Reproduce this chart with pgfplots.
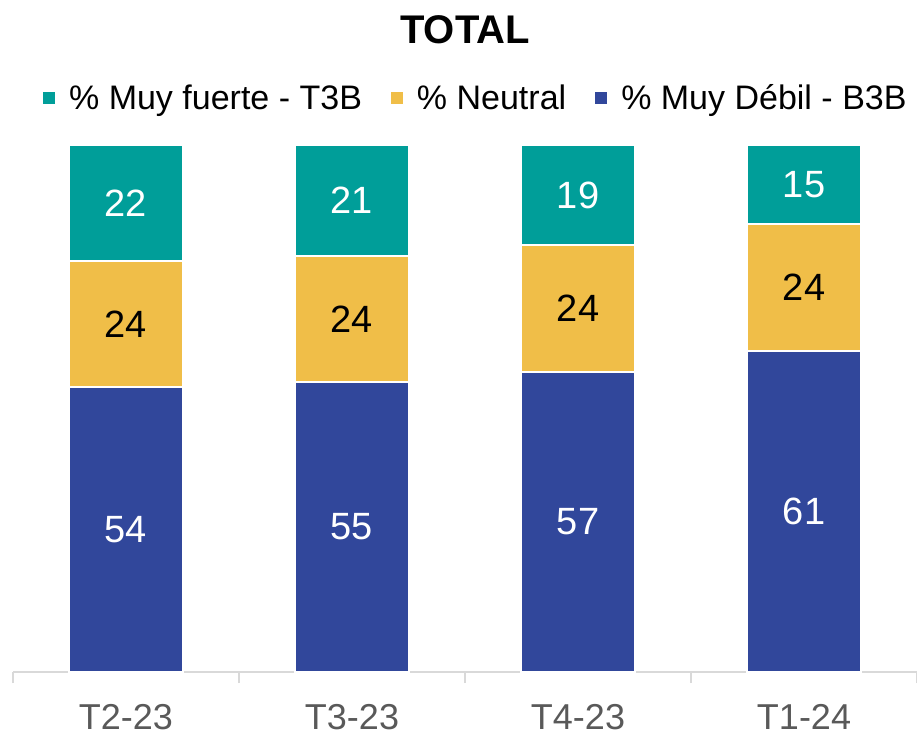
\documentclass[border=0pt]{standalone}
\usepackage{fontspec}
\setmainfont{Liberation Sans}
\usepackage{pgfplots}
\pgfplotsset{compat=1.18}
\definecolor{tealbar}{RGB}{0,158,153}
\definecolor{yellowbar}{RGB}{240,190,72}
\definecolor{bluebar}{RGB}{49,71,155}
\definecolor{axisgray}{RGB}{217,217,217}
\definecolor{ticktext}{RGB}{89,89,89}
\begin{document}
\begin{tikzpicture}
\path[use as bounding box] (-13pt,-60pt) rectangle (904pt,672pt);
\begin{axis}[
  at={(0pt,0pt)}, anchor=south west,
  scale only axis, width=904pt, height=527pt,
  ybar stacked, bar width=0.504,
  xmin=-0.5, xmax=3.5, ymin=0, ymax=100,
  xtick={0,1,2,3}, xticklabels={T2-23,T3-23,T4-23,T1-24},
  minor xtick={-0.5,0.5,1.5,2.5,3.5},
  major tick length=0pt, minor tick length=11pt,
  tick align=outside, tick pos=bottom,
  minor tick style={draw=axisgray, line width=2pt},
  axis x line*=bottom, x axis line style={draw=axisgray, line width=2pt, -},
  hide y axis,
  xticklabel style={font=\fontsize{36}{40}\selectfont, text=ticktext, inner sep=0pt,
    text depth=0pt, anchor=north, yshift=-32pt},
  title={TOTAL},
  title style={font=\fontsize{40}{44}\selectfont\bfseries, at={(0.5,1.207)}, anchor=center},
  legend style={at={(0.512,1.089)}, anchor=center, draw=none, fill=none,
    legend columns=3, font=\fontsize{34}{38}\selectfont,
    /tikz/every odd column/.append style={column sep=12pt},
    /tikz/every even column/.append style={column sep=27pt}},
  legend image code/.code={\fill[#1,draw=none] (0pt,-6pt) rectangle (12pt,6pt);},
  reverse legend,
  nodes near coords,
  nodes near coords align=center, % labels sit in the middle of each segment
  every node near coord/.append style={anchor=center, font=\fontsize{38}{42}\selectfont},
  /pgf/number format/assume math mode=true,
]
% % Muy Debil - B3B
\addplot[fill=bluebar, draw=white, line width=2pt,
  every node near coord/.append style={text=white}] coordinates {(0,54) (1,55) (2,57) (3,61)};
\addlegendentry{\% Muy Débil - B3B}
% % Neutral
\addplot[fill=yellowbar, draw=white, line width=2pt,
  every node near coord/.append style={text=black}] coordinates {(0,24) (1,24) (2,24) (3,24)};
\addlegendentry{\% Neutral}
% % Muy fuerte - T3B
\addplot[fill=tealbar, draw=white, line width=2pt,
  every node near coord/.append style={text=white}] coordinates {(0,22) (1,21) (2,19) (3,15)};
\addlegendentry{\% Muy fuerte - T3B}
\end{axis}
\end{tikzpicture}
\end{document}
